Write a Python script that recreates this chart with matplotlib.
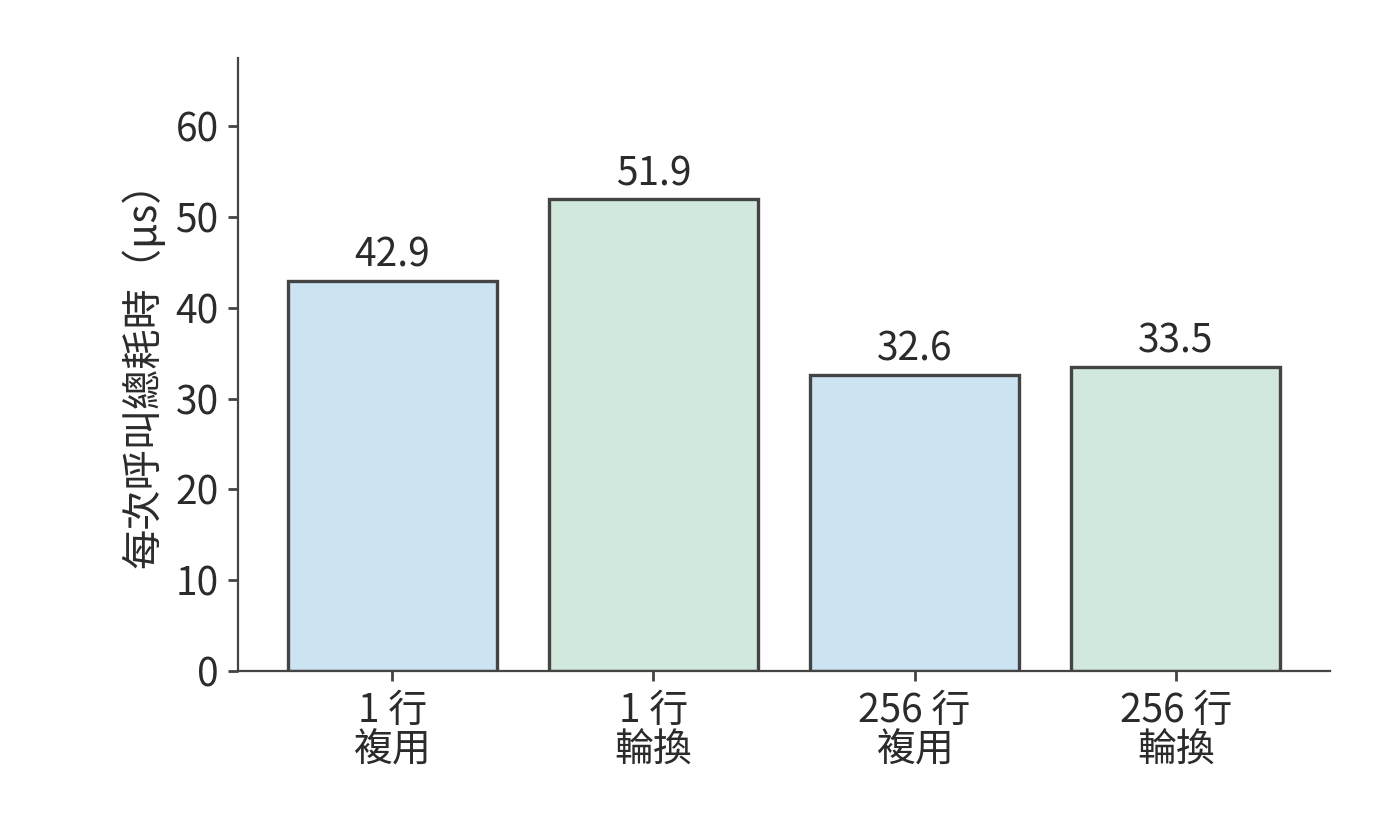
import matplotlib
matplotlib.use("Agg")
import matplotlib.pyplot as plt

plt.rcParams['font.family'] = ['Noto Sans CJK TC', 'DejaVu Sans']

# 資料
labels = ['1 行\n複用', '1 行\n輪換', '256 行\n複用', '256 行\n輪換']
times_us = [42.9, 51.9, 32.6, 33.5]
bar_colors = ['#cce3f2', '#d1e8dc', '#cce3f2', '#d1e8dc']

fig = plt.figure(figsize=(7, 4.2), dpi=200)
ax = fig.add_axes([0.17, 0.201, 0.78, 0.73])

text_color = '#2b2b2b'
edge = '#444444'

bars = ax.bar(range(len(times_us)), times_us, width=0.8, color=bar_colors,
              edgecolor=edge, linewidth=1.2)
for b, v in zip(bars, times_us):
    ax.text(b.get_x() + b.get_width() / 2, v + 0.6, f'{v:.1f}',
            ha='center', va='bottom', fontsize=14, color=text_color)

ax.set_xticks(range(len(labels)))
ax.set_xticklabels(labels, fontsize=14, color=text_color, linespacing=1.0)
ax.set_ylim(0, max(times_us) * 1.3)
ax.set_yticks(range(0, 61, 10))
ax.tick_params(axis='y', labelsize=14, labelcolor=text_color, color=edge, width=1)
ax.tick_params(axis='x', color=edge, width=1)
ax.set_ylabel('每次呼叫總耗時（µs）', fontsize=14.5, color=text_color)

ax.spines['top'].set_visible(False)
ax.spines['right'].set_visible(False)
for s in ['left', 'bottom']:
    ax.spines[s].set_color(edge)
    ax.spines[s].set_linewidth(0.8)

fig.savefig('out.png', dpi=200)
